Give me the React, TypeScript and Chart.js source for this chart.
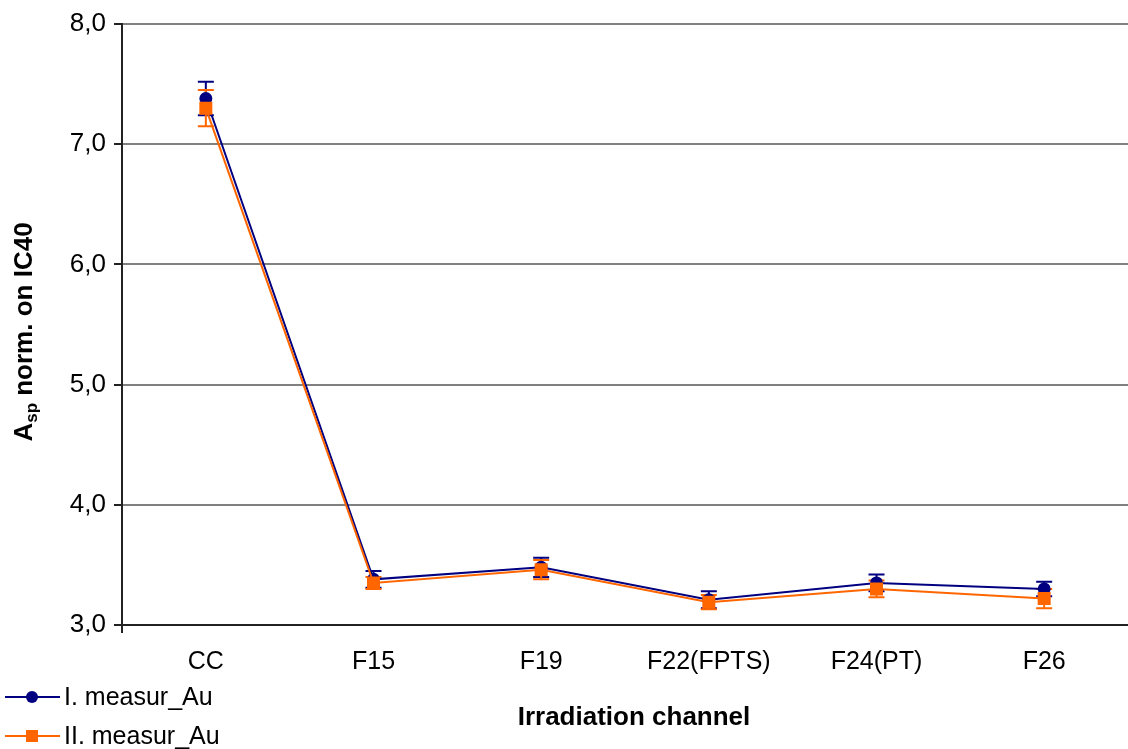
import React, { useEffect, useRef } from "react";
import { Chart, registerables } from "chart.js";

Chart.register(...registerables);

const categories = ["CC", "F15", "F19", "F22(FPTS)", "F24(PT)", "F26"];
const series1Name = "I. measur_Au";
const series2Name = "II. measur_Au";
const series1Values = [7.38, 3.38, 3.48, 3.21, 3.35, 3.30];
const series1Errors = [0.14, 0.07, 0.08, 0.07, 0.07, 0.06];
const series2Values = [7.30, 3.35, 3.46, 3.19, 3.30, 3.22];
const series2Errors = [0.15, 0.05, 0.08, 0.06, 0.07, 0.08];
const yTicks = [3, 4, 5, 6, 7, 8];
const xTitle = "Irradiation channel";
const yTitleMain = "A";
const yTitleSub = "sp";
const yTitleRest = " norm. on IC40";

const BLUE = "#000080";
const ORANGE = "#FF6600";
const FONT = "'Liberation Sans', Arial, sans-serif";

const errorBarPlugin = {
  id: "errorBars",
  beforeDatasetsDraw(chart: any) {
    const ctx = chart.ctx;
    const y = chart.scales.y;
    const sets = [
      { idx: 0, vals: series1Values, errs: series1Errors, color: BLUE },
      { idx: 1, vals: series2Values, errs: series2Errors, color: ORANGE },
    ];
    ctx.save();
    ctx.lineWidth = 2;
    for (const s of sets) {
      const meta = chart.getDatasetMeta(s.idx);
      ctx.strokeStyle = s.color;
      meta.data.forEach((pt: any, i: number) => {
        const x = pt.x;
        const top = y.getPixelForValue(s.vals[i] + s.errs[i]);
        const bot = y.getPixelForValue(s.vals[i] - s.errs[i]);
        ctx.beginPath();
        ctx.moveTo(x, top);
        ctx.lineTo(x, bot);
        ctx.moveTo(x - 8, top);
        ctx.lineTo(x + 8, top);
        ctx.moveTo(x - 8, bot);
        ctx.lineTo(x + 8, bot);
        ctx.stroke();
      });
    }
    ctx.restore();
  },
};

const decorPlugin = {
  id: "decor",
  afterDraw(chart: any) {
    const ctx = chart.ctx;
    const area = chart.chartArea;
    ctx.save();
    ctx.strokeStyle = "#222";
    ctx.lineWidth = 2;
    ctx.beginPath();
    ctx.moveTo(area.left, area.bottom);
    ctx.lineTo(area.left, area.bottom + 8);
    ctx.stroke();

    // x title
    ctx.fillStyle = "#000";
    ctx.font = `bold 26px ${FONT}`;
    ctx.textAlign = "center";
    ctx.textBaseline = "middle";
    ctx.fillText(xTitle, 634, 718);

    // y title with subscript
    ctx.save();
    ctx.translate(23, 332);
    ctx.rotate(-Math.PI / 2);
    const mainFont = `bold 26px ${FONT}`;
    const subFont = `bold 17px ${FONT}`;
    ctx.font = mainFont;
    const wA = ctx.measureText(yTitleMain).width;
    const wRest = ctx.measureText(yTitleRest).width;
    ctx.font = subFont;
    const wSub = ctx.measureText(yTitleSub).width;
    const total = wA + wSub + wRest;
    let cx = -total / 2;
    ctx.textAlign = "left";
    ctx.textBaseline = "alphabetic";
    ctx.font = mainFont;
    ctx.fillText(yTitleMain, cx, 9);
    cx += wA;
    ctx.font = subFont;
    ctx.fillText(yTitleSub, cx, 14);
    cx += wSub;
    ctx.font = mainFont;
    ctx.fillText(yTitleRest, cx, 9);
    ctx.restore();

    // legend
    const items = [
      { name: series1Name, color: BLUE, shape: "circle", y: 697 },
      { name: series2Name, color: ORANGE, shape: "square", y: 736 },
    ];
    for (const it of items) {
      ctx.strokeStyle = it.color;
      ctx.lineWidth = 2;
      ctx.beginPath();
      ctx.moveTo(5, it.y);
      ctx.lineTo(60, it.y);
      ctx.stroke();
      ctx.fillStyle = it.color;
      if (it.shape === "circle") {
        ctx.beginPath();
        ctx.arc(32, it.y, 6, 0, Math.PI * 2);
        ctx.fill();
      } else {
        ctx.fillRect(26, it.y - 6, 12, 12);
      }
      ctx.fillStyle = "#000";
      ctx.font = `25px ${FONT}`;
      ctx.textAlign = "left";
      ctx.textBaseline = "middle";
      ctx.fillText(it.name, 64, it.y + 1);
    }
    ctx.restore();
  },
};

export default function App() {
  const ref = useRef<HTMLCanvasElement | null>(null);
  useEffect(() => {
    document.body.style.margin = "0";
    const canvas = ref.current;
    if (!canvas) return;
    const chart = new Chart(canvas, {
      type: "line",
      data: {
        labels: categories,
        datasets: [
          {
            label: series1Name,
            data: series1Values,
            borderColor: BLUE,
            backgroundColor: BLUE,
            borderWidth: 2,
            pointStyle: "circle",
            pointRadius: 6.5,
            pointBorderWidth: 0,
            tension: 0,
            order: 1,
          },
          {
            label: series2Name,
            data: series2Values,
            borderColor: ORANGE,
            backgroundColor: ORANGE,
            borderWidth: 2,
            pointStyle: "rect",
            pointRadius: 9.2,
            pointBorderWidth: 0,
            tension: 0,
            order: 0,
          },
        ],
      },
      options: {
        animation: false,
        responsive: false,
        maintainAspectRatio: false,
        devicePixelRatio: 1,
        layout: { autoPadding: false, padding: { top: 24, left: 0, right: 0, bottom: 0 } },
        plugins: {
          legend: { display: false },
          tooltip: { enabled: false },
          title: { display: false },
        },
        scales: {
          x: {
            type: "category",
            offset: true,
            grid: { display: true, drawOnChartArea: false, drawTicks: false },
            border: { display: true, color: "#222", width: 2 },
            ticks: {
              color: "#000",
              font: { family: FONT, size: 25 },
              padding: 22,
              maxRotation: 0,
              autoSkip: false,
            },
            afterFit(scale: any) {
              scale.height = 124;
              scale.paddingLeft = 0;
              scale.paddingRight = 0;
            },
          },
          y: {
            type: "linear",
            min: 3,
            max: 8,
            afterBuildTicks(scale: any) {
              scale.ticks = yTicks.map((v) => ({ value: v }));
            },
            grid: {
              color: "#808080",
              lineWidth: 2,
              tickColor: "#222",
              tickLength: 8,
              drawTicks: true,
            },
            border: { display: true, color: "#222", width: 2 },
            ticks: {
              color: "#000",
              font: { family: FONT, size: 26 },
              padding: 8,
              callback: (v: any) => Number(v).toFixed(1).replace(".", ","),
            },
            afterFit(scale: any) {
              scale.width = 122;
              scale.paddingTop = 0;
              scale.paddingBottom = 0;
            },
          },
        },
      },
      plugins: [errorBarPlugin, decorPlugin],
    });
    return () => chart.destroy();
  }, []);
  return (
    <div style={{ width: 1128, height: 749, position: "relative" }}>
      <canvas ref={ref} width={1128} height={749} style={{ display: "block" }} />
    </div>
  );
}
